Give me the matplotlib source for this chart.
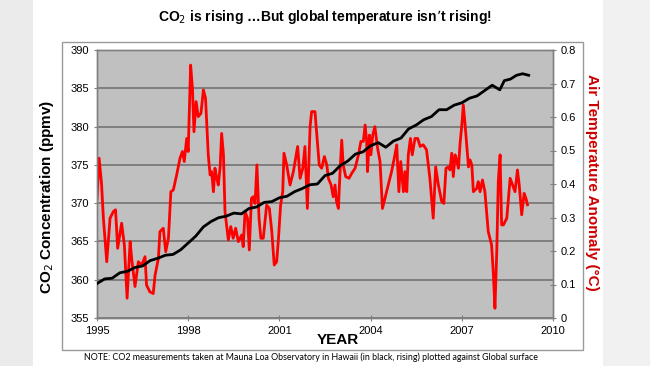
import matplotlib
matplotlib.use('Agg')
import matplotlib.pyplot as plt
from matplotlib.patches import Rectangle

# CO2 at Mauna Loa (ppmv)
co2_years = [1995.0, 1995.25, 1995.5, 1995.75, 1996.0, 1996.25, 1996.5, 1996.75,
             1997.0, 1997.25, 1997.5, 1997.75, 1998.0, 1998.25, 1998.5, 1998.75,
             1999.0, 1999.25, 1999.5, 1999.75, 2000.0, 2000.25, 2000.5, 2000.75,
             2001.0, 2001.25, 2001.5, 2001.75, 2002.0, 2002.25, 2002.5, 2002.75,
             2003.0, 2003.25, 2003.5, 2003.75, 2004.0, 2004.25, 2004.5, 2004.75,
             2005.0, 2005.25, 2005.5, 2005.75, 2006.0, 2006.25, 2006.5, 2006.75,
             2007.0, 2007.25, 2007.5, 2007.75, 2008.0, 2008.25, 2008.4, 2008.6,
             2008.8, 2009.0, 2009.2]
co2_ppmv = [359.5, 360.1, 360.2, 360.9, 361.1, 361.6, 361.8, 362.5,
            362.8, 363.2, 363.3, 363.9, 364.8, 365.7, 366.9, 367.6,
            368.1, 368.3, 368.7, 368.6, 369.3, 369.5, 370.1, 370.2,
            370.7, 370.9, 371.5, 371.9, 372.4, 372.5, 373.6, 373.9,
            374.9, 375.5, 376.4, 376.7, 377.5, 377.9, 377.3, 378.1,
            378.5, 379.7, 380.2, 380.9, 381.3, 382.2, 382.2, 382.8,
            383.1, 383.7, 384.0, 384.7, 385.4, 384.8, 386.0, 386.2,
            386.7, 386.9, 386.7]

# global surface air temperature anomaly (deg C)
temp_years = [1995.0, 1995.07, 1995.15, 1995.21, 1995.32, 1995.43, 1995.54, 1995.61,
              1995.68, 1995.81, 1995.9, 1995.99, 1996.09, 1996.14, 1996.25, 1996.36,
              1996.47, 1996.58, 1996.63, 1996.74, 1996.85, 1996.91, 1997.02, 1997.07,
              1997.18, 1997.26, 1997.35, 1997.43, 1997.51, 1997.62, 1997.73, 1997.81,
              1997.87, 1997.95, 1998.0, 1998.08, 1998.14, 1998.19, 1998.26, 1998.33,
              1998.42, 1998.5, 1998.57, 1998.66, 1998.72, 1998.77, 1998.83, 1998.88,
              1998.94, 1998.99, 1999.05, 1999.1, 1999.16, 1999.21, 1999.32, 1999.4,
              1999.48, 1999.56, 1999.65, 1999.76, 1999.81, 1999.87, 1999.95, 2000.01,
              2000.08, 2000.14, 2000.2, 2000.26, 2000.33, 2000.39, 2000.47, 2000.58,
              2000.67, 2000.75, 2000.83, 2000.91, 2000.97, 2001.04, 2001.11, 2001.15,
              2001.24, 2001.35, 2001.46, 2001.6, 2001.68, 2001.77, 2001.84, 2001.92,
              2002.01, 2002.06, 2002.17, 2002.25, 2002.31, 2002.39, 2002.48, 2002.56,
              2002.61, 2002.7, 2002.77, 2002.83, 2002.88, 2002.94, 2002.99, 2003.05,
              2003.1, 2003.18, 2003.29, 2003.38, 2003.49, 2003.6, 2003.68, 2003.76,
              2003.82, 2003.87, 2003.9, 2003.96, 2004.01, 2004.07, 2004.14, 2004.23,
              2004.31, 2004.39, 2004.47, 2004.58, 2004.69, 2004.8, 2004.86, 2004.93,
              2004.99, 2005.08, 2005.13, 2005.19, 2005.24, 2005.31, 2005.37, 2005.46,
              2005.55, 2005.63, 2005.73, 2005.84, 2005.95, 2006.06, 2006.14, 2006.23,
              2006.34, 2006.41, 2006.48, 2006.56, 2006.61, 2006.67, 2006.72, 2006.78,
              2006.83, 2006.89, 2006.94, 2007.0, 2007.05, 2007.1, 2007.16, 2007.22,
              2007.27, 2007.33, 2007.38, 2007.49, 2007.54, 2007.6, 2007.68, 2007.76,
              2007.87, 2007.98, 2008.04, 2008.09, 2008.15, 2008.2, 2008.26, 2008.31,
              2008.37, 2008.48, 2008.59, 2008.67, 2008.75, 2008.83, 2008.89, 2008.97,
              2009.05, 2009.11, 2009.16]
temp_anom = [0.357, 0.477, 0.40, 0.298, 0.168, 0.298, 0.318, 0.323,
             0.208, 0.283, 0.218, 0.059, 0.228, 0.178, 0.094, 0.168,
             0.158, 0.183, 0.098, 0.078, 0.073, 0.128, 0.178, 0.258,
             0.268, 0.198, 0.238, 0.377, 0.382, 0.427, 0.477, 0.497,
             0.467, 0.536, 0.497, 0.755, 0.685, 0.556, 0.646, 0.601,
             0.611, 0.681, 0.656, 0.487, 0.427, 0.437, 0.377, 0.447,
             0.417, 0.397, 0.451, 0.551, 0.487, 0.318, 0.233, 0.273,
             0.238, 0.268, 0.228, 0.248, 0.213, 0.318, 0.298, 0.203,
             0.357, 0.362, 0.342, 0.457, 0.298, 0.238, 0.238, 0.337,
             0.327, 0.258, 0.158, 0.168, 0.238, 0.337, 0.377, 0.492,
             0.457, 0.397, 0.437, 0.512, 0.417, 0.447, 0.512, 0.327,
             0.572, 0.616, 0.616, 0.527, 0.457, 0.447, 0.482, 0.457,
             0.417, 0.397, 0.362, 0.397, 0.347, 0.327, 0.427, 0.531,
             0.457, 0.422, 0.417, 0.432, 0.447, 0.487, 0.527, 0.527,
             0.576, 0.527, 0.437, 0.546, 0.487, 0.546, 0.571, 0.507,
             0.467, 0.327, 0.357, 0.397, 0.437, 0.487, 0.517, 0.377,
             0.467, 0.377, 0.437, 0.377, 0.487, 0.536, 0.487, 0.536,
             0.536, 0.512, 0.517, 0.502, 0.417, 0.298, 0.451, 0.397,
             0.347, 0.342, 0.447, 0.451, 0.442, 0.492, 0.422, 0.487,
             0.472, 0.447, 0.517, 0.576, 0.636, 0.586, 0.517, 0.451,
             0.472, 0.457, 0.377, 0.387, 0.407, 0.377, 0.412, 0.377,
             0.258, 0.218, 0.128, 0.029, 0.198, 0.407, 0.487, 0.278,
             0.278, 0.298, 0.417, 0.397, 0.377, 0.442, 0.397, 0.308,
             0.372, 0.357, 0.338]

year_ticks = [1995, 1998, 2001, 2004, 2007, 2010]
co2_ticks = [355, 360, 365, 370, 375, 380, 385, 390]
temp_ticks = [0, 0.1, 0.2, 0.3, 0.4, 0.5, 0.6, 0.7, 0.8]
temp_labels = ['0', '0.1', '0.2', '0.3', '0.4', '0.5', '0.6', '0.7', '0.8']

plt.rcParams['font.family'] = ['Liberation Sans', 'DejaVu Sans']

fig = plt.figure(figsize=(6.5, 3.66), dpi=100)
fig.patch.set_facecolor('white')

# page strips and chart border
fig.patches.append(Rectangle((0, 0), 33/650, 1, transform=fig.transFigure,
                             facecolor='#ebebeb', edgecolor='none', zorder=0))
fig.patches.append(Rectangle((603/650, 0), 47/650, 1, transform=fig.transFigure,
                             facecolor='#f1f1f1', edgecolor='none', zorder=0))
fig.patches.append(Rectangle((62/650, 1 - 350/366), (583 - 62)/650, (350 - 42)/366,
                             transform=fig.transFigure, facecolor='none',
                             edgecolor='#9a9a9a', linewidth=1, zorder=1))

ax = fig.add_axes([97/650, 1 - 318/366, (553 - 97)/650, (318 - 50)/366])
ax.set_facecolor('#c0c0c0')
ax.set_xlim(1995, 2010)
ax.set_ylim(355, 390)
ax.set_xticks(year_ticks)
ax.set_yticks(co2_ticks)
ax.yaxis.grid(True, color='#7a7a7a', linewidth=1.3)
ax.set_axisbelow(True)
ax.tick_params(direction='inout', length=5, color='#808080', labelsize=8, pad=3)

ax2 = ax.twinx()
ax2.set_ylim(0, 0.8)
ax2.set_yticks(temp_ticks)
ax2.set_yticklabels(temp_labels)
ax2.tick_params(direction='inout', length=5, color='#808080', labelsize=8, pad=3)

ax2.plot(temp_years, temp_anom, color='#ff0000', linewidth=2.0, zorder=2)
# CO2 drawn on top, in the left axis' units
ax2.plot(co2_years, co2_ppmv, color='black', linewidth=2.0, zorder=3,
         transform=ax.transData)

for a in (ax, ax2):
    for s in a.spines.values():
        s.set_color('#808080')
        s.set_linewidth(1)

fig.text(0.5, 0.954, 'CO$_2$ is rising \u2026But global temperature isn\u2019t rising!',
         ha='center', va='center', fontsize=10, fontweight='bold')
fig.text(0.072, 0.462, 'CO$_2$ Concentration (ppmv)', rotation=90,
         ha='center', va='center', fontsize=11, fontweight='bold')
fig.text(0.911, 0.503, 'Air Temperature Anomaly (\u00b0C)', rotation=270,
         ha='center', va='center', fontsize=11, fontweight='bold', color='#cc0000')
fig.text(0.52, 0.071, 'YEAR', ha='center', va='center', fontsize=11, fontweight='bold')
fig.text(0.479, 0.025, 'NOTE: CO2 measurements taken at Mauna Loa Observatory in Hawaii '
         '(in black, rising) plotted against Global surface',
         ha='center', va='center', fontsize=6.4, family=['Lato', 'DejaVu Sans'])

fig.savefig('out.png', dpi=100)
